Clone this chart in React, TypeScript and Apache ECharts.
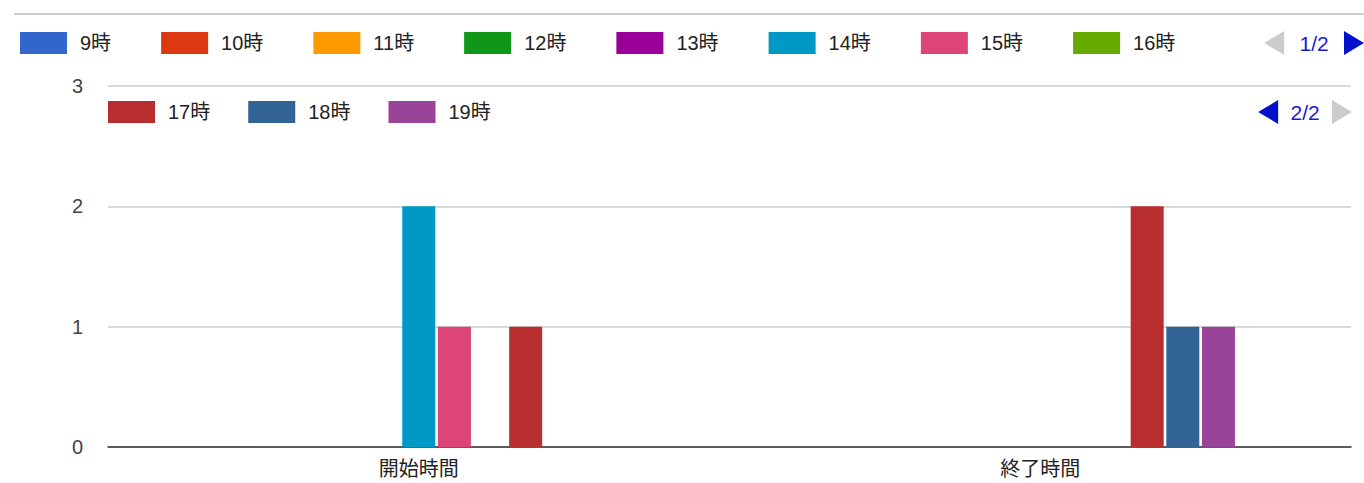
import React, { useEffect, useRef } from "react";
import * as echarts from "echarts";

const categories = ["開始時間", "終了時間"];
const seriesNames = ["9時", "10時", "11時", "12時", "13時", "14時", "15時", "16時", "17時", "18時", "19時"];
const colors = ["#3366cc", "#dc3912", "#ff9900", "#109618", "#990099", "#0099c6", "#dd4477", "#66aa00", "#b82e2e", "#316395", "#994499"];
// values per series: [開始時間, 終了時間]
const s9 = [0, 0];
const s10 = [0, 0];
const s11 = [0, 0];
const s12 = [0, 0];
const s13 = [0, 0];
const s14 = [2, 0];
const s15 = [1, 0];
const s16 = [0, 0];
const s17 = [1, 2];
const s18 = [0, 1];
const s19 = [0, 1];
const seriesValues = [s9, s10, s11, s12, s13, s14, s15, s16, s17, s18, s19];
const yTicks = [0, 1, 2, 3];

const FONT = 'Arial, "Liberation Sans", "Noto Sans CJK JP", sans-serif';

export default function App() {
  const ref = useRef<HTMLDivElement>(null);
  useEffect(() => {
    if (!ref.current) return;
    const chart = echarts.init(ref.current, undefined, { renderer: "svg" });
    const legendCommon = {
      type: "scroll" as const,
      orient: "horizontal" as const,
      icon: "rect",
      itemWidth: 47,
      itemHeight: 22,
      data: seriesNames,
      textStyle: { fontSize: 20, color: "#222", fontFamily: FONT, padding: [0, 0, 0, 8] },
      pageFormatter: "{current}/{total}",
      pageIcons: { horizontal: ["M0,0L20,-12L20,12z", "M0,0L-20,-12L-20,12z"] },
      pageIconSize: [20, 24],
      pageIconColor: "#0011cc",
      pageIconInactiveColor: "#cccccc",
      pageTextStyle: { color: "#1a1acc", fontSize: 21, fontFamily: FONT },
      padding: 0,
    };
    chart.setOption({
      animation: false,
      color: colors,
      textStyle: { fontFamily: FONT },
      graphic: [
        {
          type: "line",
          shape: { x1: 14, y1: 14, x2: 1364, y2: 14 },
          style: { stroke: "#d0d0d0", lineWidth: 2 },
        },
      ],
      legend: [
        {
          ...legendCommon,
          left: 20,
          top: 31,
          right: -4,
          itemGap: 50,
          pageButtonItemGap: 6,
          pageButtonGap: 48,
        },
        {
          ...legendCommon,
          left: 108,
          top: 100,
          width: 1244,
          itemGap: 38,
          pageButtonItemGap: 3,
          pageButtonGap: 30,
          scrollDataIndex: 8,
        },
      ],
      grid: { left: 108, right: 13, top: 86, bottom: 36, containLabel: false },
      xAxis: {
        type: "category",
        data: categories,
        axisTick: { show: false },
        axisLine: { lineStyle: { color: "#333", width: 1.5 } },
        axisLabel: { fontSize: 20, color: "#222", margin: 12, fontFamily: FONT },
      },
      yAxis: {
        type: "value",
        min: yTicks[0],
        max: yTicks[yTicks.length - 1],
        interval: 1,
        axisLine: { show: false },
        axisTick: { show: false },
        splitLine: { lineStyle: { color: "#cccccc", width: 1.5 } },
        axisLabel: { fontSize: 20, color: "#444", margin: 25, fontFamily: FONT },
      },
      series: seriesNames.map((name, i) => ({
        name,
        type: "bar",
        data: seriesValues[i],
        barWidth: 33,
        barGap: "8%",
        itemStyle: { color: colors[i] },
      })),
    });
    return () => chart.dispose();
  }, []);
  return (
    <div
      ref={ref}
      style={{ position: "fixed", left: 0, top: 0, width: 1364, height: 483, background: "#fff" }}
    />
  );
}
